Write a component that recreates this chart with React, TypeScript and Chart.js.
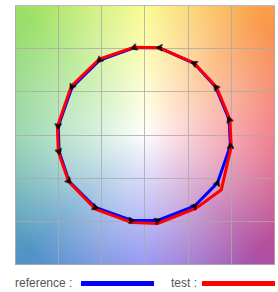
import React, { useEffect, useRef } from "react";
import { Chart, registerables } from "chart.js";

Chart.register(...registerables);

// Reference polygon (counter-clockwise from top)
const refX = [0.34, -0.25, -1.05, -1.68, -2.0, -1.98, -1.75, -1.14, -0.3, 0.3, 1.16, 1.68, 1.98, 1.95, 1.64, 1.14];
const refY = [2.02, 2.02, 1.73, 1.11, 0.2, -0.39, -1.07, -1.68, -1.98, -1.98, -1.64, -1.11, -0.25, 0.36, 1.11, 1.66];
// Test polygon
const testX = [0.34, -0.25, -1.05, -1.7, -2.02, -2.0, -1.76, -1.14, -0.3, 0.3, 1.18, 1.77, 2.0, 1.97, 1.66, 1.14];
const testY = [2.02, 2.03, 1.76, 1.13, 0.2, -0.39, -1.08, -1.72, -2.03, -2.05, -1.7, -1.27, -0.27, 0.36, 1.11, 1.67];

const axisMin = -3;
const axisMax = 3;
const legendLabels = ["reference :", "test :"];
const seriesColors = ["#0000ff", "#ff0000"];

// hue stops around the plane (angle deg -> rgb)
const hueStops: [number, number[]][] = [
  [0, [240, 100, 115]],
  [45, [250, 155, 75]],
  [90, [250, 250, 120]],
  [135, [155, 224, 105]],
  [180, [130, 205, 160]],
  [225, [80, 148, 198]],
  [270, [130, 130, 240]],
  [315, [175, 78, 160]],
  [360, [240, 100, 115]],
];

function hueColor(a: number) {
  for (let i = 0; i < hueStops.length - 1; i++) {
    const [a0, c0] = hueStops[i];
    const [a1, c1] = hueStops[i + 1];
    if (a >= a0 && a <= a1) {
      const f = (a - a0) / (a1 - a0);
      return [0, 1, 2].map((k) => c0[k] + (c1[k] - c0[k]) * f);
    }
  }
  return hueStops[0][1];
}

const bgPlugin = {
  id: "planeBg",
  beforeDraw(chart: any) {
    const { ctx, chartArea } = chart;
    const left = Math.round(chartArea.left);
    const top = Math.round(chartArea.top);
    const w = Math.round(chartArea.right - chartArea.left);
    const h = Math.round(chartArea.bottom - chartArea.top);
    const img = ctx.createImageData(w, h);
    for (let py = 0; py < h; py++) {
      for (let px = 0; px < w; px++) {
        const u = ((px + 0.5) / w) * 2 - 1;
        const v = 1 - ((py + 0.5) / h) * 2;
        const r = Math.hypot(u, v);
        let ang = (Math.atan2(v, u) * 180) / Math.PI;
        if (ang < 0) ang += 360;
        const c = hueColor(ang);
        let t = Math.min(1, r / 1.25);
        t = Math.pow(t, 0.9);
        const i = (py * w + px) * 4;
        img.data[i] = 255 + (c[0] - 255) * t;
        img.data[i + 1] = 255 + (c[1] - 255) * t;
        img.data[i + 2] = 255 + (c[2] - 255) * t;
        img.data[i + 3] = 255;
      }
    }
    ctx.putImageData(img, left, top);
  },
};

function makeChevron() {
  const c = document.createElement("canvas");
  c.width = 9;
  c.height = 9;
  const g = c.getContext("2d")!;
  g.strokeStyle = "#000";
  g.lineWidth = 1.6;
  g.beginPath();
  g.moveTo(1.5, 1.5);
  g.lineTo(6.5, 4.5);
  g.lineTo(1.5, 7.5);
  g.stroke();
  g.beginPath();
  g.moveTo(6.5, 4.5);
  g.lineTo(2, 4.5);
  g.stroke();
  return c;
}

function closed(xs: number[], ys: number[]) {
  const pts = xs.map((x, i) => ({ x, y: ys[i] }));
  pts.push({ x: xs[0], y: ys[0] });
  return pts;
}

export default function App() {
  const canvasRef = useRef<HTMLCanvasElement | null>(null);

  useEffect(() => {
    if (!canvasRef.current) return;
    const chevron = makeChevron();
    const rotations = refX.map((x, i) => {
      const j = (i + 1) % refX.length;
      const dx = refX[j] - x;
      const dy = -(refY[j] - refY[i]);
      return (Math.atan2(dy, dx) * 180) / Math.PI;
    });
    const gridColor = "rgba(170,170,170,0.8)";
    const chart = new Chart(canvasRef.current, {
      type: "scatter",
      data: {
        datasets: [
          {
            label: "markers",
            data: refX.map((x, i) => ({ x, y: refY[i] })),
            showLine: false,
            pointStyle: chevron as any,
            pointRadius: 4.5,
            pointRotation: rotations as any,
            order: 0,
          },
          {
            label: "test",
            data: closed(testX, testY),
            showLine: true,
            borderColor: seriesColors[1],
            borderWidth: 3,
            pointRadius: 0,
            fill: false,
            order: 1,
          },
          {
            label: "reference",
            data: closed(refX, refY),
            showLine: true,
            borderColor: seriesColors[0],
            borderWidth: 3,
            pointRadius: 0,
            fill: false,
            order: 2,
          },
        ],
      },
      options: {
        animation: false,
        responsive: false,
        devicePixelRatio: 1,
        layout: { padding: { left: 15, top: 4, right: 1, bottom: 2 } },
        plugins: { legend: { display: false }, tooltip: { enabled: false } },
        scales: {
          x: {
            type: "linear",
            min: axisMin,
            max: axisMax,
            ticks: { display: false, stepSize: 1 },
            grid: { color: gridColor, drawTicks: false, lineWidth: 1 },
            border: { display: true, color: gridColor },
          },
          y: {
            type: "linear",
            min: axisMin,
            max: axisMax,
            ticks: { display: false, stepSize: 1 },
            grid: { color: gridColor, drawTicks: false, lineWidth: 1 },
            border: { display: true, color: gridColor },
          },
        },
      },
      plugins: [bgPlugin],
    });
    return () => chart.destroy();
  }, []);

  const textStyle: React.CSSProperties = {
    position: "absolute",
    top: 275,
    fontFamily: "'Liberation Sans', Arial, sans-serif",
    fontSize: 12,
    color: "#555",
    lineHeight: "16px",
    whiteSpace: "nowrap",
  };

  return (
    <div
      style={{
        position: "absolute",
        left: 0,
        top: 0,
        width: 278,
        height: 292,
        overflow: "hidden",
        background: "#fff",
      }}
    >
      <canvas
        ref={canvasRef}
        width={280}
        height={270}
        style={{ position: "absolute", left: 0, top: 0, width: 280, height: 270 }}
      />
      <span style={{ ...textStyle, left: 15 }}>{legendLabels[0]}</span>
      <div style={{ position: "absolute", left: 81, top: 281, width: 73, height: 5, background: seriesColors[0] }} />
      <span style={{ ...textStyle, left: 171 }}>{legendLabels[1]}</span>
      <div style={{ position: "absolute", left: 202, top: 281, width: 73, height: 5, background: seriesColors[1] }} />
    </div>
  );
}
